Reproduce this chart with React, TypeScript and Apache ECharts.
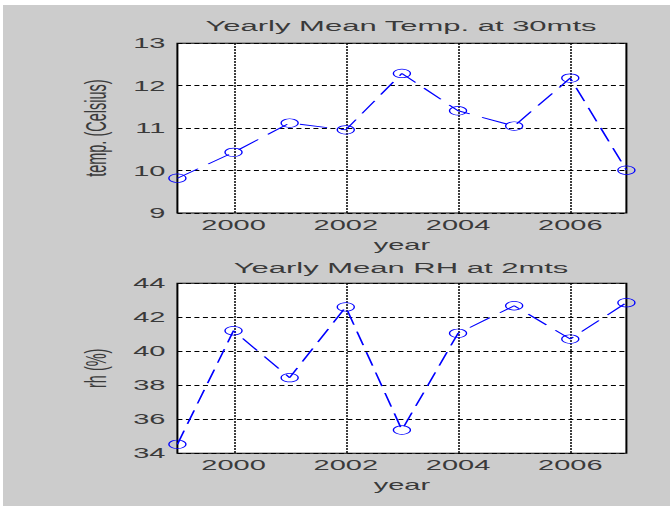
import React, { useEffect, useRef } from 'react';
import * as echarts from 'echarts';

const years = ['1999', '2000', '2001', '2002', '2003', '2004', '2005', '2006', '2007'];
const tempValues = [9.82, 10.43, 11.12, 10.96, 12.29, 11.41, 11.05, 12.18, 10.01];
const rhValues = [34.53, 41.21, 38.45, 42.61, 35.37, 41.06, 42.68, 40.72, 42.86];
const tempAxis = { min: 9, max: 13, interval: 1 };
const rhAxis = { min: 34, max: 44, interval: 2 };
const titles = ['Yearly Mean Temp. at 30mts', 'Yearly Mean RH at 2mts'];
const yNames = ['temp. (Celsius)', 'rh (%)'];
const xName = 'year';

const FONT = 'Liberation Sans, Arial, sans-serif';
const TXT = '#3a3a3a';

export default function App() {
  const ref = useRef<HTMLDivElement>(null);
  useEffect(() => {
    document.body.style.margin = '0';
    const chart = echarts.init(ref.current!, null, { renderer: 'svg' });
    const evenYear = (i: number) => i % 2 === 1;
    const grids = [
      { left: 88.7, top: 43.3, width: 224.5, height: 169.7 },
      { left: 88.7, top: 283.3, width: 224.5, height: 170 },
    ];
    const makeX = (gi: number) => ({
      type: 'category',
      gridIndex: gi,
      data: years,
      boundaryGap: false,
      name: xName,
      nameLocation: 'middle',
      nameGap: 24,
      nameTextStyle: { fontFamily: FONT, fontSize: 14.5, color: TXT },
      axisLine: { show: false },
      axisTick: { show: false },
      axisLabel: { interval: evenYear, margin: 4, fontFamily: FONT, fontSize: 14.5, color: TXT },
      splitLine: { show: true, interval: evenYear, lineStyle: { color: '#000', width: 1, type: [1.5, 1.5] } },
    });
    const makeY = (gi: number, ax: { min: number; max: number; interval: number }) => ({
      type: 'value',
      gridIndex: gi,
      min: ax.min,
      max: ax.max,
      interval: ax.interval,
      name: yNames[gi],
      nameLocation: 'middle',
      nameGap: 31,
      nameTextStyle: { fontFamily: FONT, fontSize: 14.5, color: TXT },
      axisLine: { show: false },
      axisTick: { show: false },
      axisLabel: { margin: 6, fontFamily: FONT, fontSize: 14.5, color: TXT },
      splitLine: { show: true, lineStyle: { color: '#000', width: 1, type: [2.5, 1.75] } },
    });
    const makeSeries = (gi: number, data: number[]) => ({
      type: 'line',
      xAxisIndex: gi,
      yAxisIndex: gi,
      data,
      symbol: 'circle',
      symbolSize: 8.5,
      itemStyle: { color: 'rgba(0,0,0,0)', borderColor: '#0000ff', borderWidth: 0.7 },
      lineStyle: { color: '#0000ff', width: 0.9, type: [14, 7] },
      z: 5,
    });
    chart.setOption({
      animation: false,
      backgroundColor: 'transparent',
      title: [
        { text: titles[0], left: 195.5, top: 13, textAlign: 'center', textStyle: { fontFamily: FONT, fontSize: 15.5, fontWeight: 'normal', color: TXT } },
        { text: titles[1], left: 195.5, top: 255, textAlign: 'center', textStyle: { fontFamily: FONT, fontSize: 15.5, fontWeight: 'normal', color: TXT } },
      ],
      grid: grids.map((g) => ({ ...g, show: true, backgroundColor: '#fff', borderColor: '#000', borderWidth: 1, containLabel: false })),
      xAxis: [makeX(0), makeX(1)],
      yAxis: [makeY(0, tempAxis), makeY(1, rhAxis)],
      series: [makeSeries(0, tempValues), makeSeries(1, rhValues)],
    });
    return () => chart.dispose();
  }, []);
  return (
    <div style={{ position: 'fixed', left: 0, top: 0, width: 670, height: 506, background: '#fff', overflow: 'hidden' }}>
      <div style={{ position: 'absolute', left: 3, top: 5, right: 0, bottom: 0, background: '#cccccc' }} />
      <div
        ref={ref}
        style={{ position: 'absolute', left: 0, top: 0, width: 335, height: 506, transform: 'scaleX(2)', transformOrigin: '0 0' }}
      />
    </div>
  );
}
